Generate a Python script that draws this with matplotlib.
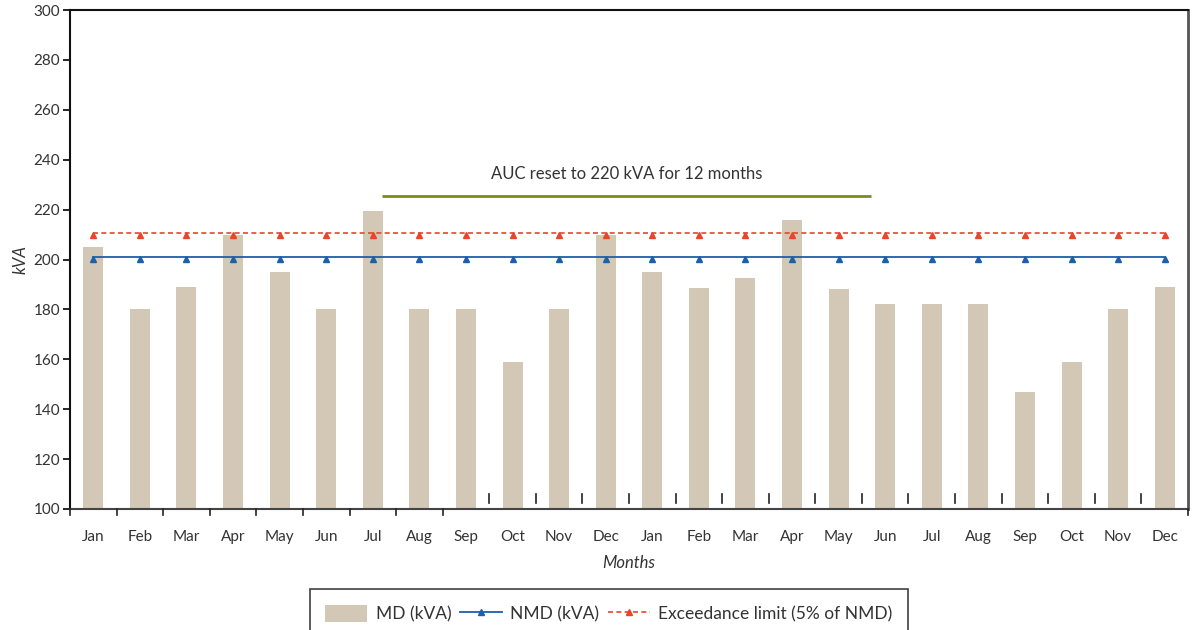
import matplotlib
matplotlib.use("Agg")
import matplotlib.pyplot as plt
import numpy as np
from matplotlib.lines import Line2D
from matplotlib.patches import Patch

plt.rcParams['font.family'] = ['Lato', 'DejaVu Sans']

months = ["Jan", "Feb", "Mar", "Apr", "May", "Jun", "Jul", "Aug", "Sep", "Oct", "Nov", "Dec",
          "Jan", "Feb", "Mar", "Apr", "May", "Jun", "Jul", "Aug", "Sep", "Oct", "Nov", "Dec"]
md_kva = [205, 180, 189, 210, 195, 180, 219.5, 180, 180, 159, 180, 210,
          195, 188.5, 192.5, 216, 188, 182, 182, 182, 147, 159, 180, 189]
nmd_kva = [201] * 24
exceed_limit = [210.5] * 24
auc_label = "AUC reset to 220 kVA for 12 months"
auc_level = 225.6
auc_start, auc_end = 6.2, 16.7

bar_color = "#D3C7B5"
nmd_color = "#1F5FAA"
lim_color = "#E8452C"
auc_color = "#7A8C1E"
text_color = "#333333"

fig = plt.figure(figsize=(11.97, 6.30), dpi=100)
ax = fig.add_axes([70/1197, 1 - 509/630, (1188-70)/1197, (509-10)/630])

x = np.arange(len(months))
ax.bar(x, md_kva, width=0.43, color=bar_color, zorder=1)
ax.plot(x, nmd_kva, color=nmd_color, lw=1.3, zorder=3)
ax.plot(x, exceed_limit, color=lim_color, lw=1.2, ls=(0, (3, 2)), zorder=3)
# markers sit marginally below the lines in the reference
ax.plot(x, np.array(nmd_kva) - 0.6, ls='none', marker='^', ms=4, color=nmd_color, zorder=3)
ax.plot(x, np.array(exceed_limit) - 0.8, ls='none', marker='^', ms=4, color=lim_color, zorder=3)

ax.hlines(auc_level, auc_start, auc_end, color=auc_color, lw=2, zorder=2)
ax.text((auc_start + auc_end) / 2, auc_level + 5.5, auc_label, ha='center', va='bottom',
        fontsize=12, color=text_color)

ax.set_xlim(-0.5, 23.5)
ax.set_ylim(100, 300)
ax.set_yticks(np.arange(100, 301, 20))
ax.set_xticks(x)
ax.set_xticklabels(months)
ax.tick_params(axis='x', length=0, pad=15, labelsize=11, labelcolor=text_color)
ax.tick_params(axis='y', length=5, width=1.2, direction='out', labelsize=11, labelcolor=text_color, pad=2)

# category boundary ticks
bounds = np.arange(-0.5, 24, 1.0)
for i, b in enumerate(bounds):
    if i <= 8 or i == 24:
        ax.plot([b, b], [0, -0.012], transform=ax.get_xaxis_transform(), color='#222222',
                lw=1.2, clip_on=False, zorder=4)
    else:
        ax.plot([b, b], [0.012, 0.030], transform=ax.get_xaxis_transform(), color='#222222',
                lw=1.2, clip_on=False, zorder=4)

for s in ['left', 'top']:
    ax.spines[s].set_color('#111111')
    ax.spines[s].set_linewidth(1.5)
ax.spines['bottom'].set_color('#444444')
ax.spines['bottom'].set_linewidth(1.5)
ax.spines['right'].set_color('#555555')
ax.spines['right'].set_linewidth(2)

ax.set_xlabel("Months", style='italic', fontsize=12, color=text_color, labelpad=8)
ax.set_ylabel("kVA", style='italic', fontsize=12, color=text_color, labelpad=4)

handles = [Patch(facecolor=bar_color, edgecolor='none'),
           Line2D([0], [0], color=nmd_color, lw=1.3, marker='^', ms=4),
           Line2D([0], [0], color=lim_color, lw=1.2, ls=(0, (3, 2)), marker='^', ms=4)]
labels = ["MD (kVA)", "NMD (kVA)", "Exceedance limit (5% of NMD)"]
leg = fig.legend(handles, labels, loc='upper center', bbox_to_anchor=(609/1197, 1 - 589/630),
                 ncol=3, fontsize=12.5, frameon=True, fancybox=False, handlelength=2.4,
                 handleheight=1.2, handletextpad=0.5, columnspacing=0.5, borderpad=0.9,
                 borderaxespad=0)
leg.get_frame().set_edgecolor('#111111')
leg.get_frame().set_linewidth(1.2)
for t in leg.get_texts():
    t.set_color(text_color)

fig.savefig("out.png", dpi=100)
